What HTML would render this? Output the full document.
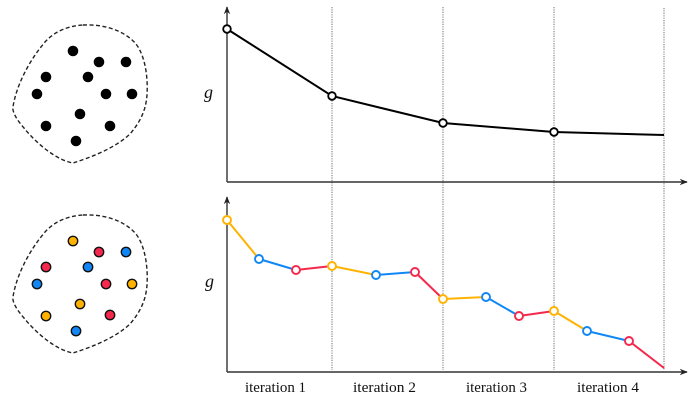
<!DOCTYPE html>
<html>
<head>
<meta charset="utf-8">
<style>
html,body{margin:0;padding:0;background:#fff;}
svg{display:block;}
</style>
</head>
<body>
<svg width="700" height="404" viewBox="0 0 700 404" xmlns="http://www.w3.org/2000/svg">
  <defs>
    <marker id="arr" viewBox="0 0 10 10" refX="9" refY="5" markerWidth="8" markerHeight="8" markerUnits="userSpaceOnUse" orient="auto">
      <path d="M0,1 L10,5 L0,9 L3,5 Z" fill="#222"/>
    </marker>
  </defs>

  <!-- Blobs -->
  <g fill="none" stroke="#222" stroke-width="1.4" stroke-dasharray="4 2.5">
    <path d="M83,25 C103,24 124,30 136,44 C146,57 148,80 147,95 C146,108 142,120 130,134 C115,148 92,157 73,163 C56,160 36,143 24,128 C17,120 12,112 13,107 C16,87 28,62 45,42 C55,31 68,26 83,25 Z"/>
    <path d="M83,215 C103,214 124,220 136,234 C146,247 148,270 147,285 C146,298 142,310 130,324 C115,338 92,347 73,353 C56,350 36,333 24,318 C17,310 12,302 13,297 C16,277 28,252 45,232 C55,221 68,216 83,215 Z"/>
  </g>

  <!-- black dots -->
  <g fill="#000">
    <circle cx="73" cy="51" r="5.3"/>
    <circle cx="99" cy="62" r="5.3"/>
    <circle cx="126" cy="62" r="5.3"/>
    <circle cx="46" cy="77" r="5.3"/>
    <circle cx="88" cy="77" r="5.3"/>
    <circle cx="37" cy="94" r="5.3"/>
    <circle cx="106" cy="94" r="5.3"/>
    <circle cx="132" cy="94" r="5.3"/>
    <circle cx="80" cy="114" r="5.3"/>
    <circle cx="46" cy="126" r="5.3"/>
    <circle cx="110" cy="126" r="5.3"/>
    <circle cx="76" cy="141" r="5.3"/>
  </g>

  <!-- colored dots -->
  <g stroke="#111" stroke-width="1.4">
    <circle cx="73" cy="241" r="4.7" fill="#FFB300"/>
    <circle cx="99" cy="252" r="4.7" fill="#F5284D"/>
    <circle cx="126" cy="252" r="4.7" fill="#1087F5"/>
    <circle cx="46" cy="267" r="4.7" fill="#F5284D"/>
    <circle cx="88" cy="267" r="4.7" fill="#1087F5"/>
    <circle cx="37" cy="284" r="4.7" fill="#1087F5"/>
    <circle cx="106" cy="284" r="4.7" fill="#F5284D"/>
    <circle cx="132" cy="284" r="4.7" fill="#FFB300"/>
    <circle cx="80" cy="304" r="4.7" fill="#FFB300"/>
    <circle cx="46" cy="316" r="4.7" fill="#FFB300"/>
    <circle cx="110" cy="315" r="4.7" fill="#F5284D"/>
    <circle cx="76" cy="331" r="4.7" fill="#1087F5"/>
  </g>

  <!-- dotted vertical lines -->
  <g stroke="#6e6e6e" stroke-width="1" stroke-dasharray="1.2 1.2">
    <line x1="332" y1="7" x2="332" y2="370"/>
    <line x1="443" y1="7" x2="443" y2="370"/>
    <line x1="554" y1="7" x2="554" y2="370"/>
    <line x1="664" y1="8" x2="664" y2="370"/>
  </g>

  <!-- axes -->
  <g stroke="#333" stroke-width="1.4" fill="none">
    <line x1="227" y1="182" x2="227" y2="7" marker-end="url(#arr)"/>
    <line x1="227" y1="182" x2="687" y2="182" marker-end="url(#arr)"/>
    <line x1="227" y1="372" x2="227" y2="197" marker-end="url(#arr)"/>
    <line x1="227" y1="372" x2="687" y2="372" marker-end="url(#arr)"/>
  </g>

  <!-- top series -->
  <polyline points="227,29 332,96 443,123 554,132 664,135" fill="none" stroke="#000" stroke-width="2"/>
  <g fill="#fff" stroke="#000" stroke-width="1.8">
    <circle cx="227" cy="29" r="3.8"/>
    <circle cx="332" cy="96" r="3.8"/>
    <circle cx="443" cy="123" r="3.8"/>
    <circle cx="554" cy="132" r="3.8"/>
  </g>

  <!-- bottom series -->
  <g fill="none" stroke-width="2">
    <line x1="227" y1="220" x2="259" y2="259" stroke="#FFB300"/>
    <line x1="259" y1="259" x2="296" y2="270" stroke="#1087F5"/>
    <line x1="296" y1="270" x2="332" y2="266" stroke="#F5284D"/>
    <line x1="332" y1="266" x2="376" y2="275" stroke="#FFB300"/>
    <line x1="376" y1="275" x2="415" y2="272" stroke="#1087F5"/>
    <line x1="415" y1="272" x2="443" y2="299" stroke="#F5284D"/>
    <line x1="443" y1="299" x2="486" y2="297" stroke="#FFB300"/>
    <line x1="486" y1="297" x2="519" y2="316" stroke="#1087F5"/>
    <line x1="519" y1="316" x2="554" y2="311" stroke="#F5284D"/>
    <line x1="554" y1="311" x2="587" y2="331" stroke="#FFB300"/>
    <line x1="587" y1="331" x2="629" y2="341" stroke="#1087F5"/>
    <line x1="629" y1="341" x2="664" y2="368" stroke="#F5284D"/>
  </g>
  <g fill="#fff" stroke-width="1.9">
    <circle cx="227" cy="220" r="4" stroke="#FFB300"/>
    <circle cx="259" cy="259" r="4" stroke="#1087F5"/>
    <circle cx="296" cy="270" r="4" stroke="#F5284D"/>
    <circle cx="332" cy="266" r="4" stroke="#FFB300"/>
    <circle cx="376" cy="275" r="4" stroke="#1087F5"/>
    <circle cx="415" cy="272" r="4" stroke="#F5284D"/>
    <circle cx="443" cy="299" r="4" stroke="#FFB300"/>
    <circle cx="486" cy="297" r="4" stroke="#1087F5"/>
    <circle cx="519" cy="316" r="4" stroke="#F5284D"/>
    <circle cx="554" cy="311" r="4" stroke="#FFB300"/>
    <circle cx="587" cy="331" r="4" stroke="#1087F5"/>
    <circle cx="629" cy="341" r="4" stroke="#F5284D"/>
  </g>

  <!-- labels -->
  <g font-family="'Liberation Serif', serif" fill="#111">
    <text x="204" y="98" font-size="18" font-style="italic">g</text>
    <text x="205" y="287" font-size="18" font-style="italic">g</text>
    <text x="245" y="392" font-size="15" textLength="61" lengthAdjust="spacingAndGlyphs">iteration 1</text>
    <text x="353" y="392" font-size="15" textLength="63" lengthAdjust="spacingAndGlyphs">iteration 2</text>
    <text x="466" y="392" font-size="15" textLength="61" lengthAdjust="spacingAndGlyphs">iteration 3</text>
    <text x="577" y="392" font-size="15" textLength="62" lengthAdjust="spacingAndGlyphs">iteration 4</text>
  </g>
</svg>
</body>
</html>
